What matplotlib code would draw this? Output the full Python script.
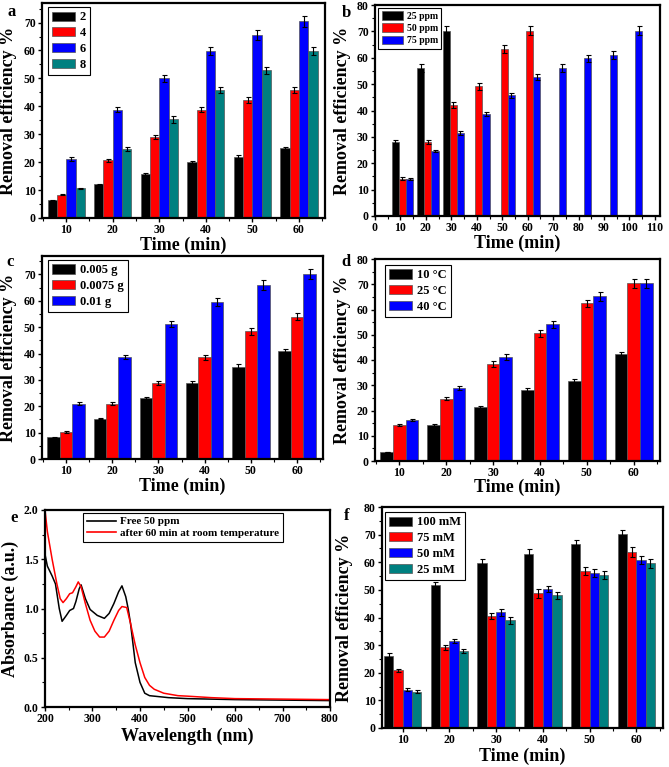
import numpy as np
import matplotlib
matplotlib.use('Agg')
import matplotlib.pyplot as plt
from matplotlib.ticker import MultipleLocator

plt.rcParams['font.family'] = ['Liberation Serif', 'DejaVu Serif']
plt.rcParams['font.weight'] = 'bold'
plt.rcParams['axes.labelweight'] = 'bold'

# ---- data ----
times = np.array([10, 20, 30, 40, 50, 60])

# a: pH
a_labels = ['2', '4', '6', '8']
a_vals = [[6.3, 12.0, 15.6, 19.9, 22.0, 25.0],
          [8.4, 20.6, 29.0, 38.8, 42.3, 45.8],
          [21.1, 38.8, 50.0, 59.8, 65.4, 70.4],
          [10.6, 24.7, 35.3, 45.8, 52.9, 59.8]]
a_errs = [[0.3, 0.3, 0.4, 0.5, 0.7, 0.5],
          [0.3, 0.5, 0.7, 1.0, 1.0, 1.2],
          [0.7, 1.0, 1.2, 1.5, 1.8, 2.0],
          [0.3, 0.8, 1.2, 1.2, 1.3, 1.5]]

# b: initial concentration
b_labels = ['25 ppm', '50 ppm', '75 ppm']
b_times = [np.array([10, 20, 30]),
           np.array([10, 20, 30, 40, 50, 60]),
           np.array([10, 20, 30, 40, 50, 60, 70, 80, 90, 100])]
b_vals = [[28.0, 56.1, 70.3],
          [14.1, 28.0, 42.1, 49.2, 63.2, 70.3],
          [14.1, 24.6, 31.6, 38.7, 45.7, 52.7, 56.1, 59.8, 61.1, 70.3]]
b_errs = [[0.8, 1.5, 1.8],
          [0.5, 0.8, 1.2, 1.3, 1.5, 1.8],
          [0.4, 0.5, 0.7, 0.9, 1.1, 1.3, 1.5, 1.4, 1.6, 1.8]]

# c: dose
c_labels = ['0.005 g', '0.0075 g', '0.01 g']
c_vals = [[8.2, 15.3, 23.1, 28.9, 35.0, 40.8],
          [10.3, 20.9, 28.8, 38.6, 48.4, 54.0],
          [21.0, 38.7, 51.1, 59.7, 66.0, 70.2]]
c_errs = [[0.3, 0.3, 0.3, 0.5, 1.2, 1.0],
          [0.4, 0.6, 0.7, 1.0, 1.3, 1.3],
          [0.6, 0.8, 1.2, 1.5, 1.8, 2.0]]

# d: temperature
d_labels = ['10 \u00b0C', '25 \u00b0C', '40 \u00b0C']
d_vals = [[3.6, 14.2, 21.2, 28.1, 31.7, 42.2],
          [14.1, 24.7, 38.6, 50.5, 62.4, 70.3],
          [16.2, 28.8, 41.3, 54.1, 65.2, 70.3]]
d_errs = [[0.1, 0.3, 0.5, 0.8, 0.8, 1.0],
          [0.4, 0.6, 1.2, 1.3, 1.5, 1.8],
          [0.5, 0.8, 1.2, 1.3, 1.7, 1.8]]

# e: UV-vis spectra
e_wl_free = [200, 205, 215, 222, 230, 236, 245, 252, 260, 265, 272, 276, 285, 295,
             310, 325, 335, 345, 355, 362, 370, 375, 380, 390, 400, 410, 420, 440,
             460, 500, 550, 600, 700, 800]
e_abs_free = [1.55, 1.43, 1.33, 1.25, 1.0, 0.87, 0.93, 0.98, 1.0, 1.07, 1.2, 1.24, 1.1,
              0.99, 0.93, 0.9, 0.95, 1.05, 1.17, 1.23, 1.12, 1.0, 0.85, 0.45, 0.25,
              0.14, 0.115, 0.105, 0.095, 0.085, 0.08, 0.075, 0.07, 0.065]
e_wl_after = [200, 205, 215, 225, 232, 238, 245, 252, 258, 265, 270, 276, 285, 295,
              305, 315, 325, 335, 345, 355, 362, 372, 380, 390, 400, 410, 420, 430,
              450, 480, 500, 550, 600, 700, 800]
e_abs_after = [2.0, 1.78, 1.5, 1.25, 1.1, 1.06, 1.1, 1.15, 1.16, 1.22, 1.27, 1.22, 1.05,
               0.88, 0.77, 0.71, 0.71, 0.77, 0.88, 0.98, 1.02, 1.01, 0.85, 0.63, 0.45,
               0.3, 0.22, 0.18, 0.14, 0.115, 0.11, 0.095, 0.085, 0.08, 0.075]

# f: salt
f_labels = ['100 mM', '75 mM', '50 mM', '25 mM']
f_vals = [[26.2, 51.7, 59.6, 63.1, 66.5, 70.2],
          [20.9, 29.2, 40.6, 48.7, 56.8, 63.8],
          [13.8, 31.5, 41.9, 50.3, 56.0, 60.8],
          [13.2, 27.9, 39.0, 48.1, 55.4, 59.6]]
f_errs = [[0.8, 1.3, 1.6, 1.6, 1.6, 1.6],
          [0.5, 1.0, 1.2, 1.5, 1.5, 1.8],
          [0.5, 0.8, 1.2, 1.2, 1.5, 1.6],
          [0.4, 0.8, 1.2, 1.3, 1.5, 1.7]]

col4 = ['#000000', '#ff0000', '#0000ff', '#008080']
col3 = ['#000000', '#ff0000', '#0000ff']

W, H = 669, 767
fig = plt.figure(figsize=(W / 100, H / 100), dpi=100)


def make_ax(l, r, t, b):
    ax = fig.add_axes([l / W, (H - b) / H, (r - l) / W, (b - t) / H])
    for s in ax.spines.values():
        s.set_linewidth(1.6)
    ax.tick_params(which='major', direction='out', length=3, width=1, labelsize=8.5, pad=1.5)
    ax.tick_params(which='minor', direction='out', length=2, width=0.8)
    return ax


def bars(ax, x, vals, err, color, label, width):
    ax.bar(x, vals, width, yerr=err, color=color, edgecolor='#555555', linewidth=0.5,
           label=label, error_kw=dict(ecolor='k', elinewidth=0.8, capsize=1.8, capthick=0.8))


def grouped(ax, series, errs, colors, labels, width):
    n = len(series)
    for i in range(n):
        x = times + (i - (n - 1) / 2) * width
        bars(ax, x, series[i], errs[i], colors[i], labels[i], width)


def legend(ax, x, y, fs, hl=1.8, hh=0.75, sp=0.3):
    lg = ax.legend(loc='upper left', bbox_to_anchor=(x, y), fontsize=fs, frameon=True,
                   fancybox=False, edgecolor='k', framealpha=1, borderaxespad=0,
                   handlelength=hl, handleheight=hh, labelspacing=sp, handletextpad=0.4,
                   borderpad=0.35)
    lg.get_frame().set_linewidth(0.8)
    for t in lg.get_texts():
        t.set_fontweight('bold')
    return lg


def labels(ax, xl, yl, xy, yx):
    ax.set_xlabel(xl, fontsize=13, fontweight='bold')
    ax.set_ylabel(yl, fontsize=13, fontweight='bold')
    ax.xaxis.set_label_coords(0.5, xy)
    ax.yaxis.set_label_coords(yx, 0.5)


def time_axis(ax, ylim, ytop):
    ax.set_xlim(4.8, 65.6)
    ax.set_xticks(times)
    ax.xaxis.set_minor_locator(MultipleLocator(5))
    ax.set_ylim(0, ylim)
    ax.set_yticks(np.arange(0, ytop + 1, 10))
    ax.yaxis.set_minor_locator(MultipleLocator(5))


# a
ax = make_ax(42, 325, 3, 218)
grouped(ax, a_vals, a_errs, col4, a_labels, 2.0)
time_axis(ax, 77, 70)
legend(ax, 0.021, 0.981, 9, hl=1.8, hh=0.75, sp=0.3)
labels(ax, 'Time (min)', 'Removal efficiency %', -0.086, -0.09)
fig.text(8 / W, 1 - 12 / H, 'a', fontsize=12, fontweight='bold', va='center')

# b
ax = make_ax(375, 660, 5, 216)
offs = [-2.8, 0.0, 2.8]
for i in range(3):
    bars(ax, b_times[i] + 0.8 + offs[i], b_vals[i], b_errs[i], col3[i], b_labels[i], 2.8)
ax.set_xlim(0, 112)
ax.set_xticks(np.arange(0, 111, 10))
ax.xaxis.set_minor_locator(MultipleLocator(5))
ax.set_ylim(0, 80)
ax.set_yticks(np.arange(0, 81, 10))
ax.yaxis.set_minor_locator(MultipleLocator(5))
legend(ax, 0.011, 0.986, 7, hl=2.2, hh=1.0, sp=0.25)
labels(ax, 'Time (min)', 'Removal efficiency %', -0.088, -0.084)
fig.text(342 / W, 1 - 13 / H, 'b', fontsize=12, fontweight='bold', va='center')

# c
ax = make_ax(42, 323, 256, 459)
grouped(ax, c_vals, c_errs, col3, c_labels, 2.7)
time_axis(ax, 77, 70)
legend(ax, 0.021, 0.98, 9, hl=1.8, hh=0.75, sp=0.3)
labels(ax, 'Time (min)', 'Removal efficiency %', -0.094, -0.09)
fig.text(6 / W, 1 - 262 / H, 'c', fontsize=12, fontweight='bold', va='center')

# d
ax = make_ax(375, 660, 259, 461)
grouped(ax, d_vals, d_errs, col3, d_labels, 2.7)
time_axis(ax, 80, 80)
legend(ax, 0.035, 0.97, 9, hl=1.8, hh=0.75, sp=0.3)
labels(ax, 'Time (min)', 'Removal efficiency %', -0.09, -0.085)
fig.text(341 / W, 1 - 262 / H, 'd', fontsize=12, fontweight='bold', va='center')

# e
ax = make_ax(45, 330, 510, 707)
ax.plot(e_wl_free, e_abs_free, color='k', lw=1.1, label='Free 50 ppm')
ax.plot(e_wl_after, e_abs_after, color='#ff0000', lw=1.1,
        label='after 60 min at room temperature')
ax.set_xlim(200, 800)
ax.set_ylim(0, 2.0)
ax.xaxis.set_major_locator(MultipleLocator(100))
ax.xaxis.set_minor_locator(MultipleLocator(50))
ax.yaxis.set_minor_locator(MultipleLocator(0.25))
ax.set_yticks(np.arange(0, 2.01, 0.5))
ax.set_yticklabels(['%.1f' % v for v in np.arange(0, 2.01, 0.5)])
lg = legend(ax, 0.133, 0.985, 8, hl=2.6, hh=0.6, sp=0.2)
for ln in lg.get_lines():
    ln.set_linewidth(1.2)
labels(ax, 'Wavelength (nm)', 'Absorbance (a.u.)', -0.107, -0.091)
fig.text(10 / W, 1 - 518 / H, 'e', fontsize=12, fontweight='bold', va='center')

# f
ax = make_ax(382, 663, 507, 728)
grouped(ax, f_vals, f_errs, col4, f_labels, 2.0)
time_axis(ax, 80, 80)
ax.set_xlim(5.6, 65.7)
legend(ax, 0.01, 0.977, 9, hl=1.8, hh=0.75, sp=0.3)
labels(ax, 'Time (min)', 'Removal efficiency %', -0.09, -0.103)
fig.text(344 / W, 1 - 516 / H, 'f', fontsize=12, fontweight='bold', va='center')

fig.savefig('out.png', dpi=100)
